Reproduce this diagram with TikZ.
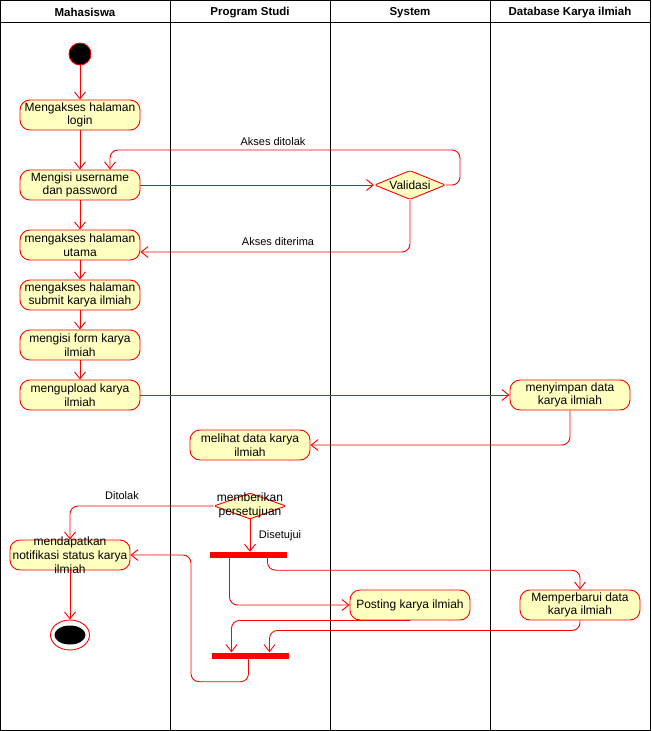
\documentclass[tikz,border=0pt]{standalone}
\usepackage{fontspec}
\setmainfont{Liberation Sans}
\usetikzlibrary{arrows.meta,shapes.geometric,calc}
\definecolor{actfill}{HTML}{FFFFC0}
\definecolor{linered}{HTML}{FF0000}

\begin{document}
\begin{tikzpicture}[x=1pt,y=-1pt,
  act/.style={draw=linered, fill=actfill, line width=0.9pt, rounded corners=10pt,
    minimum width=120pt, minimum height=30pt, inner sep=0pt,
    align=center, font=\fontsize{12}{13.5}\selectfont},
  acttext/.style={inner sep=0pt, align=center, font=\fontsize{12}{14}\selectfont},
  decision/.style={diamond, draw=linered, fill=actfill, line width=0.9pt,
    inner sep=0pt, rounded corners=1.5pt},
  syncbar/.style={fill=linered, draw=none, minimum width=77pt, minimum height=6pt, inner sep=0pt},
  flow/.style={draw=linered, line width=0.9pt, rounded corners=8pt,
    -{Straight Barb[length=7pt,width=11pt,line width=0.9pt]}},
  flowlabel/.style={inner sep=0pt, font=\fontsize{11}{13}\selectfont},
  lanehead/.style={inner sep=0pt, font=\fontsize{11.5}{13}\selectfont\bfseries},
  lane/.style={draw=black, line width=1pt}
]
\useasboundingbox (0,0) rectangle (651,731);

% swimlanes
\draw[lane] (0.5,0.5) rectangle (650.5,730.5);
\draw[lane] (0.5,22) -- (650.5,22);
\foreach \lx in {170,330,490} \draw[lane] (\lx,0.5) -- (\lx,730.5);
\node[lanehead] (h1) at (85,12.5) {Mahasiswa};
\node[lanehead] (h2) at (250,12.5) {Program Studi};
\node[lanehead] (h3) at (410,12.5) {System};
\node[lanehead] (h4) at (570,12.5) {Database Karya ilmiah};

% initial and final states
\node[circle, fill=black, draw=linered, line width=0.9pt, minimum size=22pt, inner sep=0pt] (start) at (80,54) {};
\node[ellipse, draw=linered, fill=white, line width=0.9pt, minimum width=39pt, minimum height=30pt, inner sep=0pt] (final) at (70,635) {};
\fill[black] (final.center) ellipse [x radius=15.5pt, y radius=9.5pt];

% activities
\node[act] (login) at (80,115) {Mengakses halaman\\login};
\node[act] (isi) at (80,185) {Mengisi username\\dan password};
\node[act] (utama) at (80,245) {mengakses halaman\\utama};
\node[act] (submit) at (80,295) {mengakses halaman\\submit karya ilmiah};
\node[act] (form) at (80,345) {mengisi form karya\\ilmiah};
\node[act] (upload) at (80,395) {mengupload karya\\ilmiah};
\node[act] (simpan) at (570,395) {menyimpan data\\karya ilmiah};
\node[act] (melihat) at (250,445) {melihat data karya\\ilmiah};
\node[act] (notif) at (70,555) {};
\node[acttext] (notiftext) at (notif.center) {mendapatkan\\notifikasi status karya\\ilmiah};
\node[act] (posting) at (410,605) {Posting karya ilmiah};
\node[act] (perbarui) at (580,605) {Memperbarui data\\karya ilmiah};

% decisions
\node[decision, minimum width=71pt, minimum height=29pt] (valid) at (410,185) {};
\node[acttext] (validtext) at (valid.center) {Validasi};
\node[decision, minimum width=72pt, minimum height=26pt] (setuju) at (250,506) {};
\node[acttext] (setujutext) at (250,505) {memberikan\\persetujuan};

% fork / join bars
\node[syncbar] (fork) at (248.5,555) {};
\node[syncbar] (join) at (250.5,655.5) {};

% control flow
\draw[flow] (start) -- (login);
\draw[flow] (login) -- (isi);
\draw[flow] (isi.east) -- (valid.west);
\draw[flow] (valid.east) -| (460,150) -| ($(isi.north)+(30,0)$);
\draw[flow] (valid.south) |- ($(utama.east)+(0,7)$);
\draw[flow] (isi) -- (utama);
\draw[flow] (utama) -- (submit);
\draw[flow] (submit) -- (form);
\draw[flow] (form) -- (upload);
\draw[flow] (upload.east) -- (simpan.west);
\draw[flow] (simpan.south) |- (melihat.east);
\draw[flow] (setuju.west) -| (notif.north);
\draw[flow] (setuju.south) -- (setuju.south |- fork.north);
\draw[flow] ($(fork.south)+(-19,0)$) |- (posting.west);
\draw[flow] ($(fork.south)+(19,0)$) -- ++(0,12) -| (perbarui.north);
\draw[flow] (posting.south) -| ($(join.north)+(-19,0)$);
\draw[flow] (perbarui.south) -- ++(0,10) -| ($(join.north)+(19,0)$);
\draw[flow] ($(join.south)+(-2,0)$) -- ++(0,23) -| (191,555) -- (notif.east);
\draw[flow] (notif) -- (final);

% guard labels
\node[flowlabel] (l1) at (273,142) {Akses ditolak};
\node[flowlabel] (l2) at (278,242) {Akses diterima};
\node[flowlabel] (l3) at (122,496) {Ditolak};
\node[flowlabel] (l4) at (280,536) {Disetujui};
\end{tikzpicture}
\end{document}
